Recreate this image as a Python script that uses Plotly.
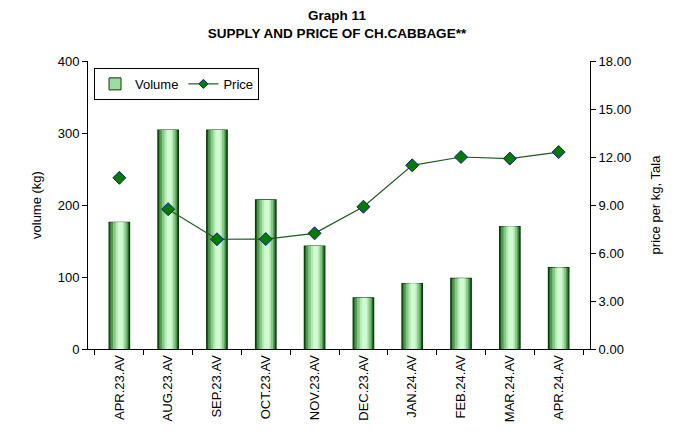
import plotly.graph_objects as go

categories = ["APR.23.AV", "AUG.23.AV", "SEP.23.AV", "OCT.23.AV", "NOV.23.AV",
              "DEC.23.AV", "JAN.24.AV", "FEB.24.AV", "MAR.24.AV", "APR.24.AV"]
volume = [176, 304, 304, 207, 143, 71, 91, 98, 170, 113]
price = [10.70, 8.74, 6.86, 6.87, 7.23, 8.89, 11.48, 12.00, 11.90, 12.31]

FONT = "Liberation Sans, Arial, sans-serif"
FS = 13
fig = go.Figure()

# gradient-like bars via overlaid layers
layers = [
    (0.42, "#1f5f1f", 0.0),
    (0.36, "#4f9a4f", 0.0),
    (0.28, "#86c886", 0.01),
    (0.18, "#b5eab5", 0.015),
    (0.10, "#d2fad2", 0.02),
]
for i, (w, c, off) in enumerate(layers):
    fig.add_trace(go.Bar(
        x=categories, y=volume, width=w,
        offset=-w / 2 + off,
        marker=dict(color=c, line=dict(color="#0b3b0b", width=1.2 if i == 0 else 0)),
        name="Volume", showlegend=False, hoverinfo="skip" if i else None,
    ))

# legend entry for volume
fig.add_trace(go.Bar(
    x=[None], y=[None], name="Volume",
    marker=dict(color="#9fdc9f", line=dict(color="#0b3b0b", width=1))))

# price: first point isolated, rest connected
fig.add_trace(go.Scatter(
    x=categories[1:], y=price[1:], mode="lines", yaxis="y2",
    line=dict(color="#1e5a1e", width=1.2), showlegend=False, hoverinfo="skip"))
fig.add_trace(go.Scatter(
    x=categories, y=price, mode="markers", yaxis="y2", name="Price",
    marker=dict(symbol="diamond", size=10, color="#007a00",
                line=dict(color="#1a1a8a", width=1)),
    showlegend=False))
fig.add_trace(go.Scatter(
    x=[None], y=[None], mode="lines+markers", yaxis="y2", name="Price",
    line=dict(color="#1e5a1e", width=1.2),
    marker=dict(symbol="diamond", size=7, color="#007a00",
                line=dict(color="#1a1a8a", width=1))))

fig.update_layout(
    width=674, height=432,
    margin=dict(l=88, r=84, t=61, b=83),
    paper_bgcolor="white", plot_bgcolor="white",
    barmode="overlay",
    font=dict(family=FONT, size=FS, color="black"),
    title=dict(text="<b>Graph 11<br>SUPPLY AND PRICE OF CH.CABBAGE**</b>",
               x=0.5, xanchor="center", xref="container",
               y=1 - 20 / 432, yref="container", yanchor="middle",
               font=dict(size=13.5, family=FONT)),
    showlegend=True,
    legend=dict(x=0.012, y=0.976, xanchor="left", yanchor="top",
                orientation="h", bordercolor="black", borderwidth=1,
                bgcolor="white", font=dict(size=FS), itemwidth=30,
                tracegroupgap=0),
    xaxis=dict(type="category", showline=True, linecolor="black", linewidth=1,
               ticks="outside", tickson="boundaries", ticklen=5, tickcolor="black",
               tickangle=-90, showgrid=False, tickfont=dict(size=FS),
               automargin=False),
    yaxis=dict(range=[0, 400], dtick=100, showline=True, linecolor="black",
               ticks="outside", ticklen=5, tickcolor="black", showgrid=False,
               zeroline=False, automargin=False, tickfont=dict(size=FS),
               title=dict(text="volume (kg)", font=dict(size=FS), standoff=13)),
    yaxis2=dict(range=[0, 18], dtick=3, tickformat=".2f", overlaying="y",
                side="right", showline=True, linecolor="black", ticks="outside",
                ticklen=5, tickcolor="black", showgrid=False, zeroline=False,
                automargin=False, tickfont=dict(size=FS),
                title=dict(text="price per kg, Tala", font=dict(size=FS), standoff=20)),
)

fig.write_html("out.html", config={"displayModeBar": False},
               post_script="document.body.style.margin='0';")
